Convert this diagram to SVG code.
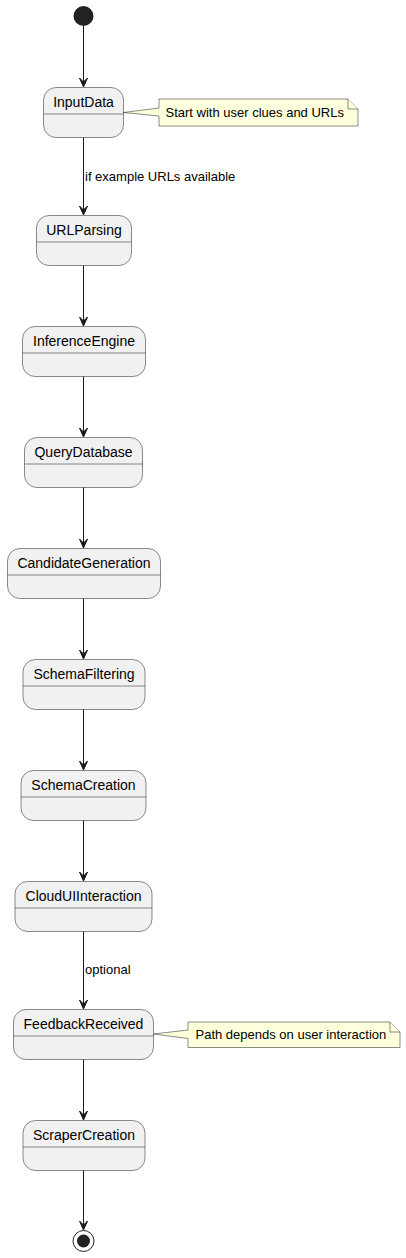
<svg xmlns="http://www.w3.org/2000/svg" width="406" height="1258" viewBox="0 0 406 1258">
<style>
.st{fill:#F1F1F1;stroke:#181818;stroke-width:0.5}
.dv{stroke:#181818;stroke-width:0.5}
.nm{font-family:"Liberation Sans",Arial,sans-serif;font-size:14px;fill:#000;text-anchor:middle}
.lb{font-family:"Liberation Sans",Arial,sans-serif;font-size:13px;fill:#000}
.nt{fill:#FEFFDD;stroke:#181818;stroke-width:0.5}
.ed{stroke:#181818;stroke-width:1;fill:none}
.ah{fill:#181818;stroke:#181818;stroke-width:1}
</style>
<rect width="406" height="1258" fill="#FFFFFF"/>
<g id="start"><circle cx="83.5" cy="16" r="10" fill="#222222"/></g>
<g id="InputData"><rect class="st" x="43.5" y="87.5" width="80" height="50" rx="12.5"/><line class="dv" x1="43.5" y1="114" x2="123.5" y2="114"/><text class="nm" x="83.5" y="107">InputData</text></g>
<g id="note1"><path class="nt" d="M159,99 L159,108 L123.5,112.5 L159,116 L159,126 L358,126 L358,109 L348,99 Z"/><path class="nt" d="M348,99 L348,109 L358,109"/><text class="lb" x="165.5" y="117">Start with user clues and URLs</text></g>
<g id="URLParsing"><rect class="st" x="36.5" y="215.5" width="95" height="50" rx="12.5"/><line class="dv" x1="36.5" y1="242" x2="131.5" y2="242"/><text class="nm" x="84" y="235">URLParsing</text></g>
<g id="InferenceEngine"><rect class="st" x="22.5" y="326.5" width="123" height="50" rx="12.5"/><line class="dv" x1="22.5" y1="353" x2="145.5" y2="353"/><text class="nm" x="84" y="346">InferenceEngine</text></g>
<g id="QueryDatabase"><rect class="st" x="24.5" y="437.5" width="118" height="50" rx="12.5"/><line class="dv" x1="24.5" y1="464" x2="142.5" y2="464"/><text class="nm" x="83.5" y="457">QueryDatabase</text></g>
<g id="CandidateGeneration"><rect class="st" x="7.5" y="548.5" width="153" height="50" rx="12.5"/><line class="dv" x1="7.5" y1="575" x2="160.5" y2="575"/><text class="nm" x="84" y="568">CandidateGeneration</text></g>
<g id="SchemaFiltering"><rect class="st" x="23" y="659.5" width="122" height="50" rx="12.5"/><line class="dv" x1="23" y1="686" x2="145" y2="686"/><text class="nm" x="84" y="679">SchemaFiltering</text></g>
<g id="SchemaCreation"><rect class="st" x="21" y="770.5" width="125" height="50" rx="12.5"/><line class="dv" x1="21" y1="797" x2="146" y2="797"/><text class="nm" x="83.5" y="790">SchemaCreation</text></g>
<g id="CloudUIInteraction"><rect class="st" x="15" y="881.5" width="137" height="50" rx="12.5"/><line class="dv" x1="15" y1="908" x2="152" y2="908"/><text class="nm" x="83.5" y="901">CloudUIInteraction</text></g>
<g id="FeedbackReceived"><rect class="st" x="13.5" y="1009.5" width="140" height="50" rx="12.5"/><line class="dv" x1="13.5" y1="1036" x2="153.5" y2="1036"/><text class="nm" x="83.5" y="1029">FeedbackReceived</text></g>
<g id="note2"><path class="nt" d="M188,1022 L188,1030 L153.5,1034 L188,1038.5 L188,1047.5 L400,1047.5 L400,1032 L390,1022 Z"/><path class="nt" d="M390,1022 L390,1032 L400,1032"/><text class="lb" x="195.5" y="1039">Path depends on user interaction</text></g>
<g id="ScraperCreation"><rect class="st" x="23" y="1120.5" width="122" height="50" rx="12.5"/><line class="dv" x1="23" y1="1147" x2="145" y2="1147"/><text class="nm" x="84" y="1140">ScraperCreation</text></g>
<g id="end"><circle cx="83.5" cy="1241" r="10.5" fill="none" stroke="#222222" stroke-width="1"/><circle cx="83.5" cy="1241" r="6.5" fill="#222222"/></g>
<g id="connectors">
<line class="ed" x1="83.5" y1="26" x2="83.5" y2="86"/><polygon class="ah" points="79.5,78 83.5,87 87.5,78 83.5,82"/>
<line class="ed" x1="83.5" y1="137.5" x2="83.5" y2="214"/><polygon class="ah" points="79.5,206 83.5,215 87.5,206 83.5,210"/>
<text class="lb" x="85" y="181">if example URLs available</text>
<line class="ed" x1="83.5" y1="265.5" x2="83.5" y2="325"/><polygon class="ah" points="79.5,317 83.5,326 87.5,317 83.5,321"/>
<line class="ed" x1="83.5" y1="376.5" x2="83.5" y2="436"/><polygon class="ah" points="79.5,428 83.5,437 87.5,428 83.5,432"/>
<line class="ed" x1="83.5" y1="487.5" x2="83.5" y2="547"/><polygon class="ah" points="79.5,539 83.5,548 87.5,539 83.5,543"/>
<line class="ed" x1="83.5" y1="598.5" x2="83.5" y2="658"/><polygon class="ah" points="79.5,650 83.5,659 87.5,650 83.5,654"/>
<line class="ed" x1="83.5" y1="709.5" x2="83.5" y2="769"/><polygon class="ah" points="79.5,761 83.5,770 87.5,761 83.5,765"/>
<line class="ed" x1="83.5" y1="820.5" x2="83.5" y2="880"/><polygon class="ah" points="79.5,872 83.5,881 87.5,872 83.5,876"/>
<line class="ed" x1="83.5" y1="931.5" x2="83.5" y2="1008"/><polygon class="ah" points="79.5,1000 83.5,1009 87.5,1000 83.5,1004"/>
<text class="lb" x="85" y="974">optional</text>
<line class="ed" x1="83.5" y1="1059.5" x2="83.5" y2="1119"/><polygon class="ah" points="79.5,1111 83.5,1120 87.5,1111 83.5,1115"/>
<line class="ed" x1="83.5" y1="1170.5" x2="83.5" y2="1229"/><polygon class="ah" points="79.5,1221 83.5,1230 87.5,1221 83.5,1225"/>
</g>
</svg>
